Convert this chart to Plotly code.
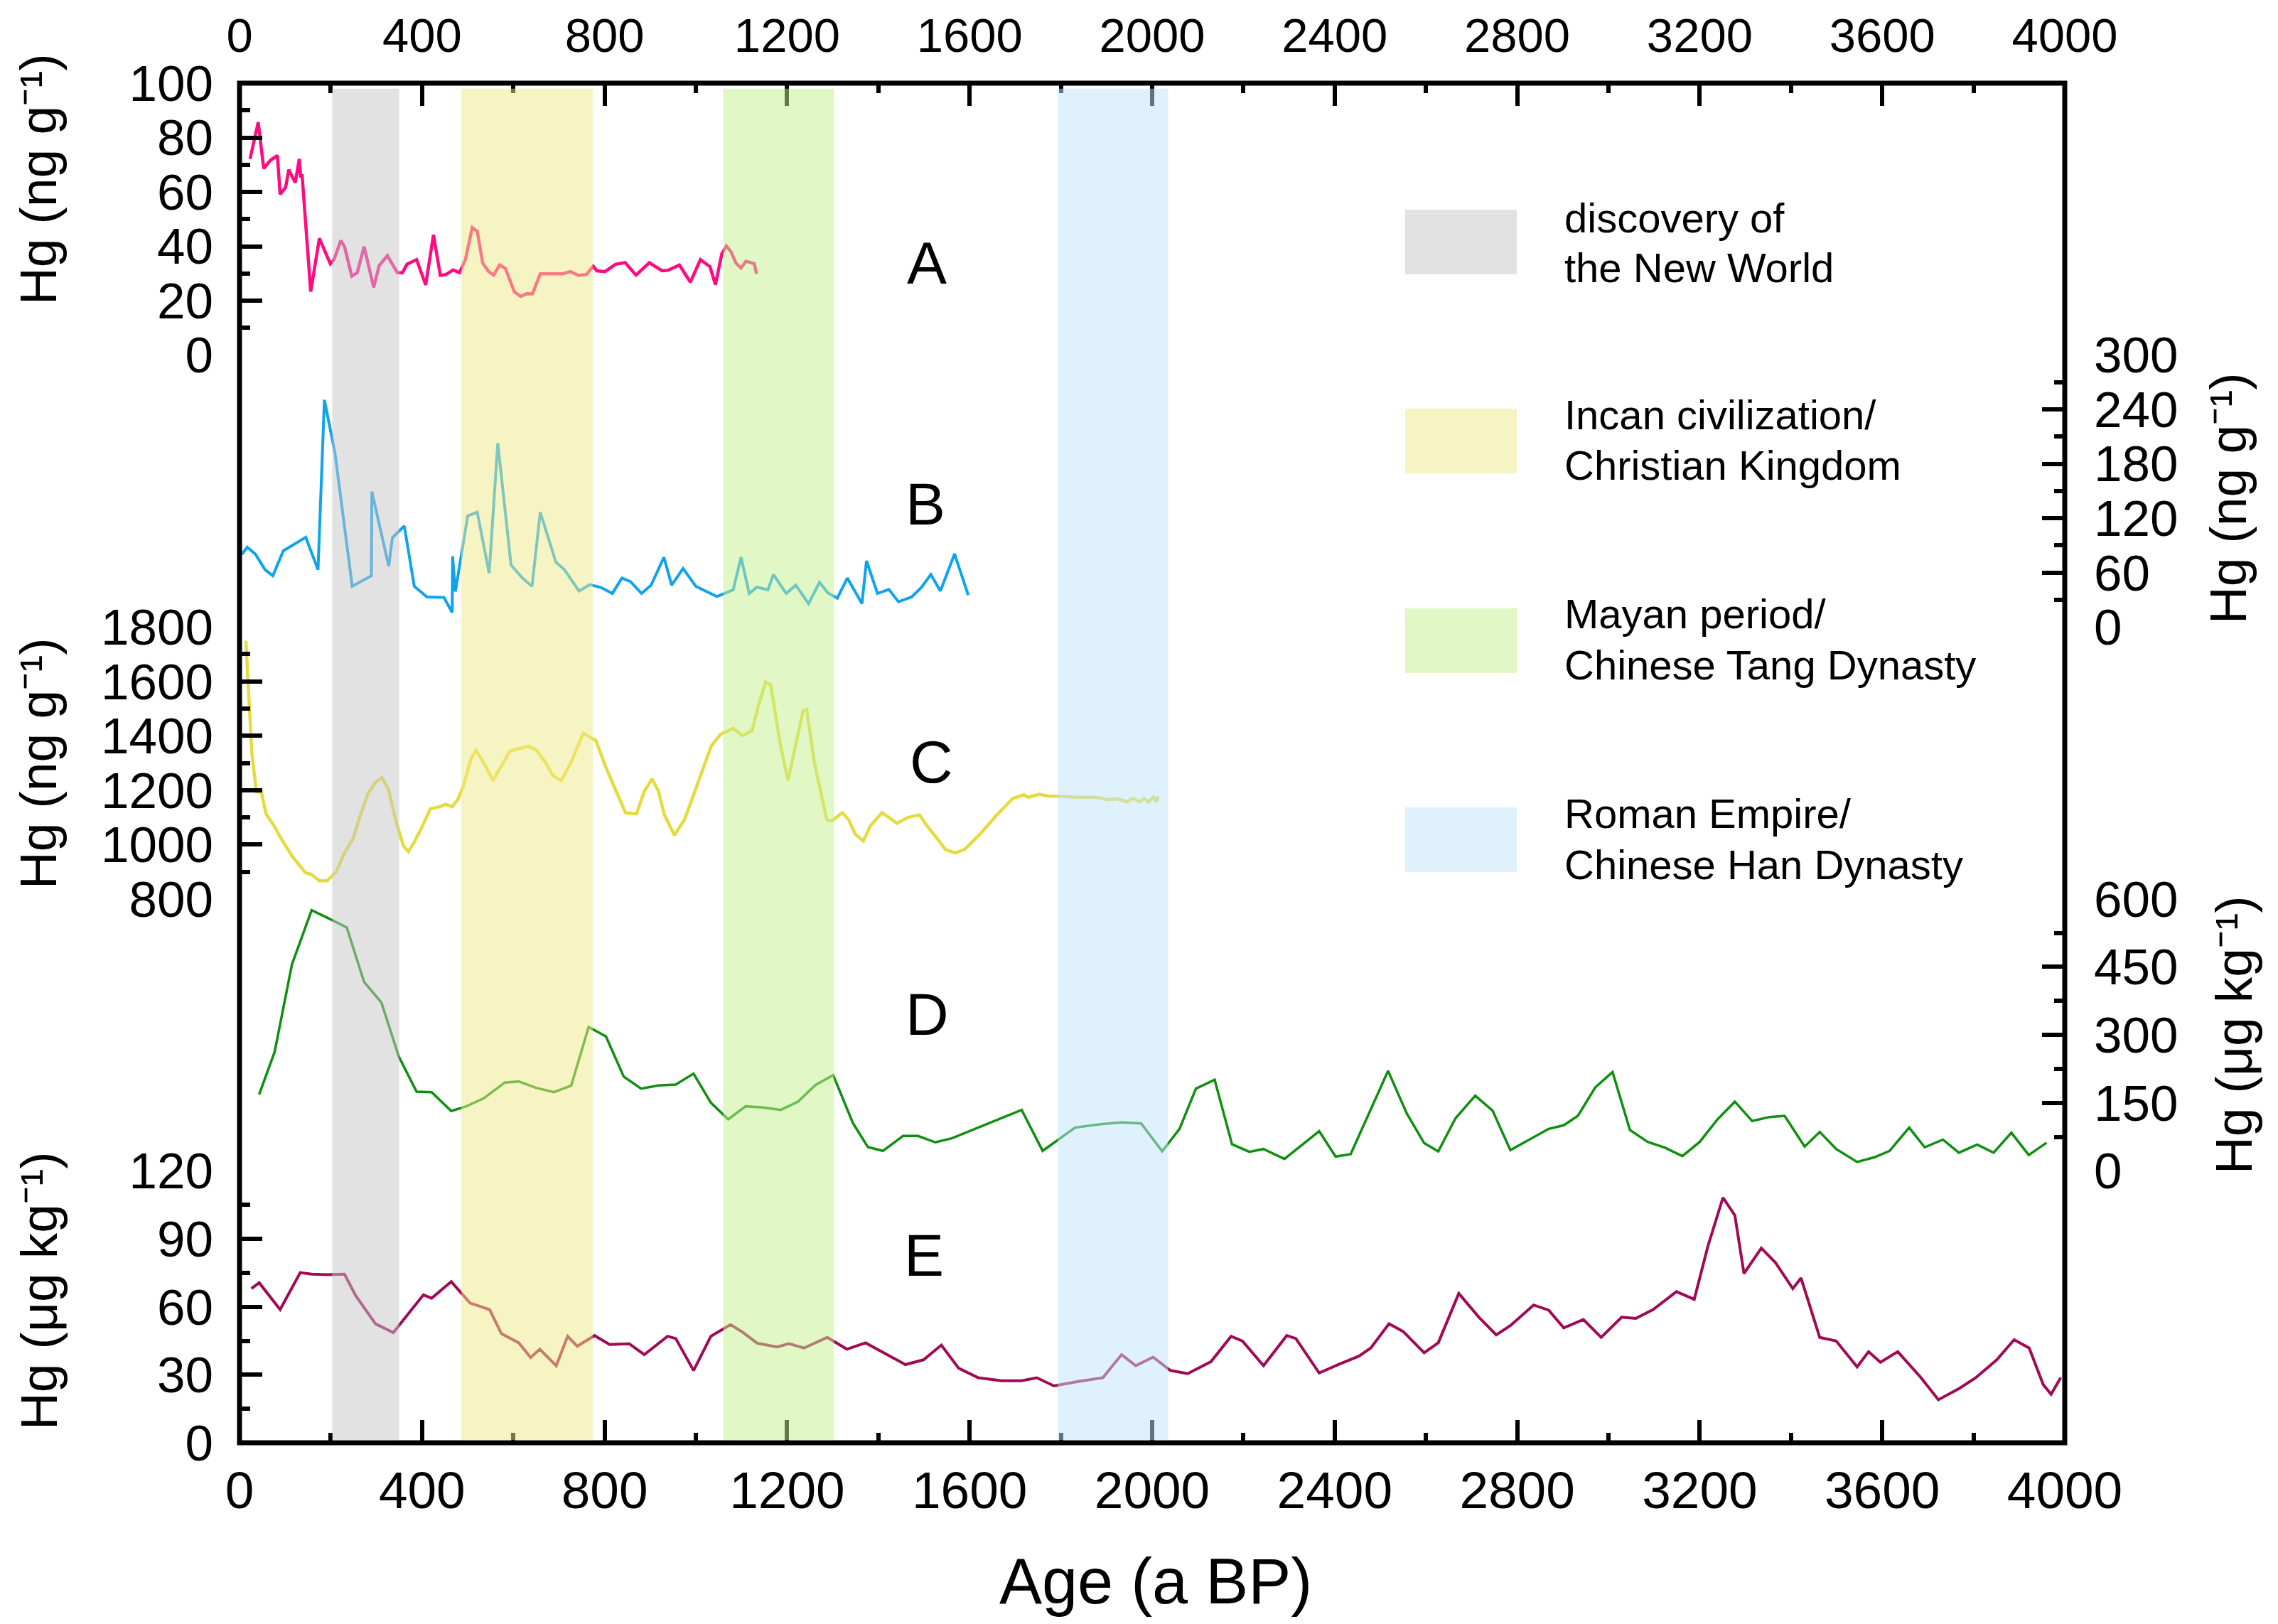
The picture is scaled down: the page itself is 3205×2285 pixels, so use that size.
import plotly.graph_objects as go

# ---------------- data ----------------
# A : Hg (ng g-1), left axis 0-100
a_age = [23, 41, 53, 68, 83, 89, 101, 108, 122, 131, 134, 137, 156, 175, 199, 207, 222, 230, 246, 258,
         273, 294, 306, 324, 346, 357, 367, 388, 408, 425, 440, 452, 468, 482, 495, 510, 521, 533, 546, 557,
         570, 583, 602, 616, 630, 642, 659, 708, 725, 743, 760, 775, 783, 801, 824, 845, 869, 898, 926, 939,
         964, 988, 1010, 1031, 1043, 1057, 1067, 1077, 1088, 1099, 1110, 1128, 1133]
a_hg = [72.1, 85.6, 68.6, 71.7, 73.4, 59.1, 61.7, 68.2, 63.4, 72.1, 65.2, 66.5, 23.3, 42.9, 33.6, 35.1, 42.1, 39.9, 29.0, 30.3,
        39.9, 24.9, 32.9, 36.6, 30.3, 30.3, 33.4, 35.1, 25.8, 44.2, 29.3, 29.6, 31.3, 30.3, 35.1, 46.9, 45.5, 33.8, 30.7, 29.4,
        33.1, 31.8, 23.3, 21.6, 22.6, 22.5, 29.9, 29.9, 30.7, 29.3, 29.6, 32.7, 31.0, 30.7, 33.4, 34.0, 29.4, 34.0, 31.0, 31.2,
        33.1, 26.8, 35.1, 32.5, 25.9, 37.3, 40.1, 38.0, 33.8, 32.0, 34.5, 33.6, 29.9]

# B : Hg (ng g-1), right axis 0-300
b_age = [5, 17, 35, 56, 73, 96, 116, 145, 172, 186, 209, 247, 289, 290, 327, 335, 361, 383, 411, 448,
         466, 467, 473, 500, 521, 547, 566, 595, 620, 641, 659, 693, 712, 744, 768, 792, 817, 838, 857, 881,
         902, 930, 947, 972, 1000, 1046, 1082, 1099, 1117, 1134, 1158, 1170, 1198, 1219, 1247, 1271, 1289, 1310, 1332, 1364,
         1374, 1398, 1423, 1444, 1473, 1494, 1515, 1536, 1567, 1597]
b_hg = [80.2, 88.0, 80.2, 63.2, 56.6, 84.1, 90.1, 99.0, 63.2, 250.6, 192.6, 44.9, 56.6, 149.4, 67.1, 98.5, 111.5, 44.9, 33.1, 32.6,
        16.1, 78.0, 39.0, 122.5, 126.7, 59.3, 203.0, 68.4, 54.0, 44.9, 126.7, 71.8, 63.2, 39.7, 46.7, 43.6, 37.0, 54.0, 50.1, 37.0,
        46.2, 77.0, 46.2, 64.5, 44.9, 33.6, 41.0, 77.0, 37.0, 44.1, 41.0, 57.9, 37.0, 46.2, 25.8, 49.3, 37.8, 31.8, 54.0, 25.8,
        72.9, 37.0, 41.5, 27.9, 33.1, 43.6, 57.9, 39.7, 80.7, 35.2]

# C : Hg (ng g-1), left axis 800-1800
c_age = [14, 27, 37, 48, 58, 75, 93, 116, 144, 157, 175, 192, 212, 230, 249, 260, 281, 299, 312, 326,
         342, 359, 370, 383, 400, 418, 438, 452, 466, 479, 490, 507, 518, 537, 555, 568, 593, 613, 633, 650,
         671, 687, 705, 726, 753, 781, 801, 822, 846, 870, 887, 904, 918, 931, 953, 975, 1013, 1034, 1054, 1082,
         1102, 1123, 1137, 1153, 1164, 1185, 1202, 1219, 1235, 1243, 1260, 1287, 1298, 1321, 1335, 1349, 1367, 1383, 1408, 1441,
         1465, 1490, 1506, 1527, 1547, 1568, 1589, 1623, 1657, 1695, 1719, 1728, 1753, 1773, 1794, 1835, 1876, 1903, 1924, 1945,
         1958, 1972, 1983, 1992, 2003, 2010, 2013]
c_hg = [1749, 1335, 1194, 1192, 1113, 1070, 1017, 956, 897, 891, 867, 867, 900, 969, 1022, 1083, 1187, 1231, 1246, 1205,
        1091, 995, 974, 1009, 1065, 1131, 1139, 1148, 1139, 1167, 1212, 1313, 1346, 1296, 1235, 1274, 1344, 1353, 1361, 1348,
        1300, 1253, 1235, 1300, 1409, 1383, 1292, 1209, 1117, 1113, 1196, 1241, 1196, 1109, 1035, 1091, 1266, 1363, 1405, 1427,
        1401, 1418, 1510, 1598, 1588, 1370, 1235, 1366, 1492, 1496, 1300, 1091, 1087, 1117, 1091, 1039, 1013, 1070, 1117, 1078,
        1100, 1109, 1070, 1026, 982, 969, 982, 1039, 1104, 1170, 1183, 1174, 1185, 1178, 1178, 1174, 1174, 1165, 1168, 1157,
        1170, 1157, 1170, 1157, 1174, 1157, 1176]

# D : Hg (ug kg-1), right axis 0-600
d_age = [43, 77, 115, 158, 199, 235, 273, 311, 349, 388, 421, 464, 497, 536, 581, 612, 650, 689, 727, 765,
         803, 842, 880, 918, 956, 995, 1033, 1071, 1109, 1148, 1186, 1224, 1262, 1301, 1344, 1377, 1410, 1454, 1487, 1525,
         1561, 1714, 1760, 1831, 1887, 1933, 1976, 2022, 2060, 2096, 2137, 2175, 2213, 2244, 2290, 2366, 2402, 2435, 2474, 2517,
         2558, 2596, 2627, 2665, 2708, 2746, 2785, 2825, 2869, 2902, 2933, 2971, 3009, 3047, 3086, 3124, 3162, 3200, 3239, 3277,
         3315, 3353, 3386, 3430, 3463, 3499, 3545, 3583, 3616, 3659, 3693, 3733, 3768, 3808, 3844, 3883, 3921, 3960]
d_hg = [168.5, 262.6, 456.0, 575.1, 555.3, 537.0, 416.8, 371.3, 252.1, 174.7, 173.7, 131.9, 142.3, 160.6, 194.6, 197.2, 183.1, 173.7, 188.3, 317.4,
        296.5, 207.7, 181.5, 188.3, 190.4, 214.5, 150.2, 113.6, 142.3, 139.7, 134.5, 152.8, 189.4, 211.3, 105.7, 52.4, 44.1, 77.0, 77.0, 62.9,
        71.8, 134.5, 44.1, 95.3, 103.1, 106.8, 104.7, 43.0, 92.7, 181.5, 200.9, 58.7, 42.0, 48.2, 26.3, 87.5, 31.5, 36.7, 124.0, 220.7,
        126.7, 61.3, 43.0, 116.2, 165.9, 132.9, 45.6, 68.1, 92.7, 100.5, 121.4, 184.1, 218.1, 90.1, 63.9, 50.9, 32.6, 63.9, 113.6, 152.8,
        109.9, 118.8, 121.4, 53.5, 85.9, 48.2, 19.5, 30.0, 44.1, 95.3, 52.0, 69.0, 40.0, 58.0, 40.0, 84.0, 35.0, 62.0]

# E : Hg (ug kg-1), left axis 0-120
e_age = [26, 43, 89, 133, 158, 191, 230, 255, 298, 337, 403, 421, 464, 505, 548, 574, 612, 638, 658, 694,
         719, 740, 778, 811, 854, 887, 938, 956, 995, 1033, 1076, 1102, 1135, 1178, 1204, 1237, 1288, 1331, 1372, 1415,
         1459, 1499, 1538, 1576, 1619, 1670, 1714, 1747, 1785, 1836, 1892, 1933, 1964, 2002, 2040, 2078, 2129, 2173, 2198, 2244,
         2295, 2315, 2366, 2410, 2453, 2479, 2519, 2550, 2596, 2627, 2672, 2716, 2754, 2785, 2836, 2869, 2902, 2945, 2984, 3029,
         3060, 3098, 3149, 3188, 3218, 3251, 3277, 3297, 3335, 3366, 3404, 3422, 3463, 3499, 3545, 3570, 3596, 3634, 3685, 3723,
         3769, 3805, 3851, 3889, 3922, 3953, 3970, 3991]
e_hg = [68.0, 70.6, 58.8, 75.1, 74.4, 74.2, 74.4, 64.8, 52.5, 48.6, 65.3, 63.8, 71.1, 61.7, 58.8, 48.1, 44.1, 37.6, 41.3, 34.0,
        47.0, 42.6, 47.3, 43.4, 43.7, 38.9, 47.0, 46.0, 31.9, 47.0, 52.1, 48.9, 43.9, 42.3, 43.7, 41.8, 46.5, 41.3, 44.1, 39.2,
        34.5, 36.6, 43.1, 32.9, 28.7, 27.4, 27.4, 28.7, 25.1, 27.0, 28.7, 38.9, 34.0, 37.8, 31.9, 30.5, 35.8, 47.0, 44.9, 34.0,
        47.3, 46.0, 30.8, 34.7, 38.2, 41.8, 52.5, 49.1, 39.7, 44.1, 65.9, 55.4, 47.6, 51.7, 60.8, 58.5, 50.7, 54.4, 46.5, 55.4,
        54.9, 58.8, 66.7, 63.3, 86.8, 108.2, 100.4, 74.7, 85.9, 79.5, 68.0, 72.7, 46.5, 44.9, 33.5, 40.2, 35.5, 40.2, 28.7, 19.0,
        24.0, 28.7, 36.6, 45.5, 41.8, 25.6, 21.4, 28.7]

# shaded historical periods (a BP)
band_start = [203, 486, 1060, 1793]
band_end = [350, 774, 1303, 2035]
band_line1 = ["discovery of", "Incan civilization/", "Mayan period/", "Roman Empire/"]
band_line2 = ["the New World", "Christian Kingdom", "Chinese Tang Dynasty", "Chinese Han Dynasty"]

panel_letters = ["A", "B", "C", "D", "E"]
x_ticks = list(range(0, 4001, 400))
unit_ng = "Hg (ng g\u207b\u00b9)"
unit_ug = "Hg (\u03bcg kg\u207b\u00b9)"

# ---------------- styling ----------------
FIG_W, FIG_H = 3205, 2285
OFF = 8                      # default page body margin in the browser
L, R, T, B = 337, 2905, 117, 2030   # plot area in the final picture
PW, PH = R - L, B - T
FONT = "Liberation Sans, Arial, sans-serif"

band_overlay = ["rgba(197,197,197,0.5)", "rgba(239,233,137,0.5)", "rgba(195,239,141,0.5)", "rgba(191,227,249,0.5)"]
band_swatch = ["#e2e2e2", "#f7f4c4", "#e1f7c6", "#dff1fc"]
line_colors = ["#ff0a80", "#0fa3ee", "#e4dc3c", "#0f8f0f", "#a00a55"]
line_widths = [4.5, 4.0, 4.5, 3.5, 4.0]


def px(xp):
    return (xp - L) / PW


def py(yp):
    return (B - yp) / PH


fig = go.Figure()

series = [
    (a_age, a_hg, "x2", "y"),
    (b_age, b_hg, "x", "y2"),
    (c_age, c_hg, "x", "y3"),
    (d_age, d_hg, "x", "y4"),
    (e_age, e_hg, "x", "y5"),
]
for i, (xs, ys, xa, ya) in enumerate(series):
    fig.add_trace(go.Scatter(x=xs, y=ys, xaxis=xa, yaxis=ya, mode="lines",
                             line=dict(color=line_colors[i], width=line_widths[i]),
                             showlegend=False, hoverinfo="skip"))


def yax(domain, rng, dtick, mdtick, side, standoff):
    return dict(domain=domain, range=rng, tick0=rng[0], dtick=dtick, side=side, anchor="x",
                ticks="inside", ticklen=32, tickwidth=6, tickcolor="black",
                minor=dict(ticks="inside", ticklen=15, tickwidth=6, tickcolor="black",
                           dtick=mdtick, tick0=rng[0]),
                showgrid=False, zeroline=False, showline=False, automargin=False,
                tickfont=dict(family=FONT, size=71, color="black"),
                ticklabelstandoff=standoff, fixedrange=True)


def xax(side, anchor, standoff, fsize):
    return dict(domain=[0, 1], anchor=anchor, side=side, range=[0, 4000], tickvals=x_ticks,
                ticks="inside", ticklen=32, tickwidth=6, tickcolor="black",
                minor=dict(ticks="inside", ticklen=14, tickwidth=6, tickcolor="black",
                           dtick=200, tick0=0),
                showgrid=False, zeroline=False, showline=False, automargin=False,
                tickfont=dict(family=FONT, size=fsize, color="black"),
                ticklabelstandoff=standoff, fixedrange=True)


fig.update_layout(
    width=FIG_W, height=FIG_H,
    margin=dict(l=L - OFF, r=FIG_W - R + OFF, t=T - OFF, b=FIG_H - B + OFF, pad=0, autoexpand=False),
    paper_bgcolor="white", plot_bgcolor="white",
    font=dict(family=FONT, color="black"),
    xaxis=xax("bottom", "y5", 18, 73),
    xaxis2=dict(overlaying="x", **xax("top", "y", 30, 67)),
    yaxis=yax([0.8, 1.0], [0, 100], 20, 10, "left", 36),
    yaxis2=yax([0.6, 0.8], [0, 300], 60, 30, "right", 40),
    yaxis3=yax([0.4, 0.6], [800, 1800], 200, 100, "left", 36),
    yaxis4=yax([0.2, 0.4], [0, 600], 150, 75, "right", 40),
    yaxis5=yax([0.0, 0.2], [0, 120], 30, 15, "left", 36),
    showlegend=False,
)

shapes = []
# frame
shapes.append(dict(type="rect", xref="paper", yref="paper", x0=0, x1=1, y0=0, y1=1,
                   line=dict(color="black", width=7), fillcolor="rgba(0,0,0,0)", layer="above"))
# period bands (translucent, drawn over the curves)
for s, e, c in zip(band_start, band_end, band_overlay):
    shapes.append(dict(type="rect", xref="x", yref="paper", x0=s, x1=e, y0=0.002, y1=0.996,
                       line=dict(width=0), fillcolor=c, layer="above"))
# legend swatches
sw_top = [295, 575, 856, 1136]
sw_h = 91
for k, c in enumerate(band_swatch):
    shapes.append(dict(type="rect", xref="paper", yref="paper", x0=px(1977), x1=px(2134),
                       y0=py(sw_top[k] + sw_h), y1=py(sw_top[k]),
                       line=dict(width=0), fillcolor=c, layer="above"))
fig.update_layout(shapes=shapes)

ann = []
# legend text
l1_y = [306, 583, 864, 1145]
for k in range(4):
    ann.append(dict(text=band_line1[k], xref="paper", yref="paper", x=px(2199), y=py(l1_y[k]),
                    xanchor="left", yanchor="middle", showarrow=False,
                    font=dict(family=FONT, size=58, color="black")))
    ann.append(dict(text=band_line2[k], xref="paper", yref="paper", x=px(2199), y=py(l1_y[k] + 71),
                    xanchor="left", yanchor="middle", showarrow=False,
                    font=dict(family=FONT, size=58, color="black")))
# panel letters
letter_xy = [(1304, 370), (1302, 709), (1310, 1072), (1304, 1427), (1300, 1766)]
for lt, (lx, ly) in zip(panel_letters, letter_xy):
    ann.append(dict(text=lt, xref="paper", yref="paper", x=px(lx), y=py(ly),
                    xanchor="center", yanchor="middle", showarrow=False,
                    font=dict(family=FONT, size=84, color="black")))
# axis titles
titles = [(unit_ng, 54, 252), (unit_ng, 3134, 701), (unit_ng, 53, 1074), (unit_ug, 3142, 1456), (unit_ug, 54, 1816)]
for txt, tx, ty in titles:
    ann.append(dict(text=txt, xref="paper", yref="paper", x=px(tx), y=py(ty),
                    xanchor="center", yanchor="middle", showarrow=False, textangle=-90,
                    font=dict(family=FONT, size=73, color="black")))
ann.append(dict(text="Age (a BP)", xref="paper", yref="paper", x=px(1626), y=py(2225),
                xanchor="center", yanchor="middle", showarrow=False,
                font=dict(family=FONT, size=90, color="black")))
fig.update_layout(annotations=ann)

fig.write_html("out.html")
